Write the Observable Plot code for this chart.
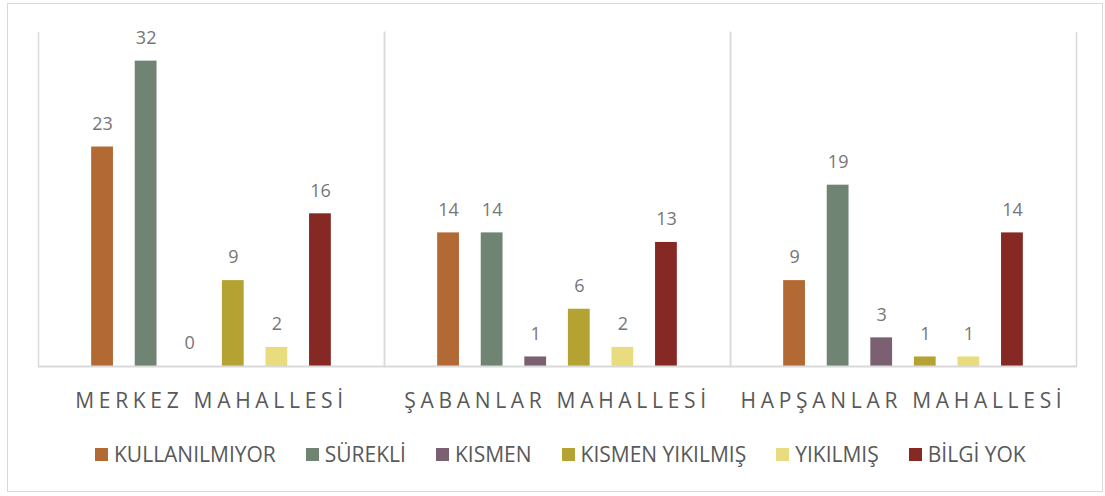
<!DOCTYPE html>
<html><head><meta charset="utf-8">
<script src="https://cdn.jsdelivr.net/npm/d3@7"></script>
<script src="https://cdn.jsdelivr.net/npm/@observablehq/plot@0.6"></script>
<style>
body{margin:0;background:#fff;font-family:"Open Sans",sans-serif;}
#border{position:absolute;left:7px;top:3px;width:1096px;height:489px;border:1px solid #d9d9d9;box-sizing:border-box;}
#chart{position:absolute;left:0;top:0;}
#legend{position:absolute;left:95px;top:440px;display:flex;align-items:center;font-size:21px;color:#595959;}
#legend .item{display:flex;align-items:center;margin-right:30px;}
#legend .sw{width:13px;height:13px;margin-right:6px;}
</style>
</head><body>
<div id="border"></div>
<div id="chart"></div>
<div id="legend"></div>
<script>
const groups = ["MERKEZ MAHALLESİ", "ŞABANLAR MAHALLESİ", "HAPŞANLAR MAHALLESİ"];
const series = ["KULLANILMIYOR", "SÜREKLİ", "KISMEN", "KISMEN YIKILMIŞ", "YIKILMIŞ", "BİLGİ YOK"];
const colors = ["#B36934", "#708473", "#7A6070", "#B4A333", "#E9DC7F", "#862823"];
const merkez = [23, 32, 0, 9, 2, 16];
const sabanlar = [14, 14, 1, 6, 2, 13];
const hapsanlar = [9, 19, 3, 1, 1, 14];

const valuesByGroup = [merkez, sabanlar, hapsanlar];
const data = [];
groups.forEach((g, gi) => series.forEach((s, si) => data.push({group: g, series: s, value: valuesByGroup[gi][si]})));

const plot = Plot.plot({
  width: 1105,
  height: 420,
  marginLeft: 37,
  marginRight: 29,
  marginTop: 32,
  marginBottom: 54,
  style: {fontFamily: '"Open Sans", sans-serif', background: "transparent"},
  fx: {domain: groups, padding: 0},
  x: {domain: series, paddingInner: 0.5, paddingOuter: 1.22, round: false, axis: null},
  y: {domain: [0, 35], axis: null},
  color: {domain: series, range: colors},
  marks: [
    Plot.frame({anchor: "left", stroke: "#d9d9d9", strokeWidth: 1.5}),
    Plot.frame({anchor: "right", stroke: "#d9d9d9", strokeWidth: 1.5}),
    Plot.barY(data, {fx: "group", x: "series", y: "value", fill: "series"}),
    Plot.ruleY([0], {stroke: "#d9d9d9", strokeWidth: 2}),
    Plot.text(data, {fx: "group", x: "series", y: "value", text: d => String(d.value), dy: -23, fill: "#767676", fontSize: 18}),
    Plot.axisFx({anchor: "bottom", tickSize: 0, tickPadding: 27, fontSize: 21, fill: "#595959", label: null})
  ]
});
document.getElementById("chart").appendChild(plot);
plot.querySelectorAll('[aria-label="fx-axis tick label"] text').forEach(t => t.setAttribute("letter-spacing", "4.7"));

const legend = document.getElementById("legend");
series.forEach((s, i) => {
  const item = document.createElement("div");
  item.className = "item";
  item.innerHTML = `<span class="sw" style="background:${colors[i]}"></span><span>${s}</span>`;
  legend.appendChild(item);
});
</script>
</body></html>
